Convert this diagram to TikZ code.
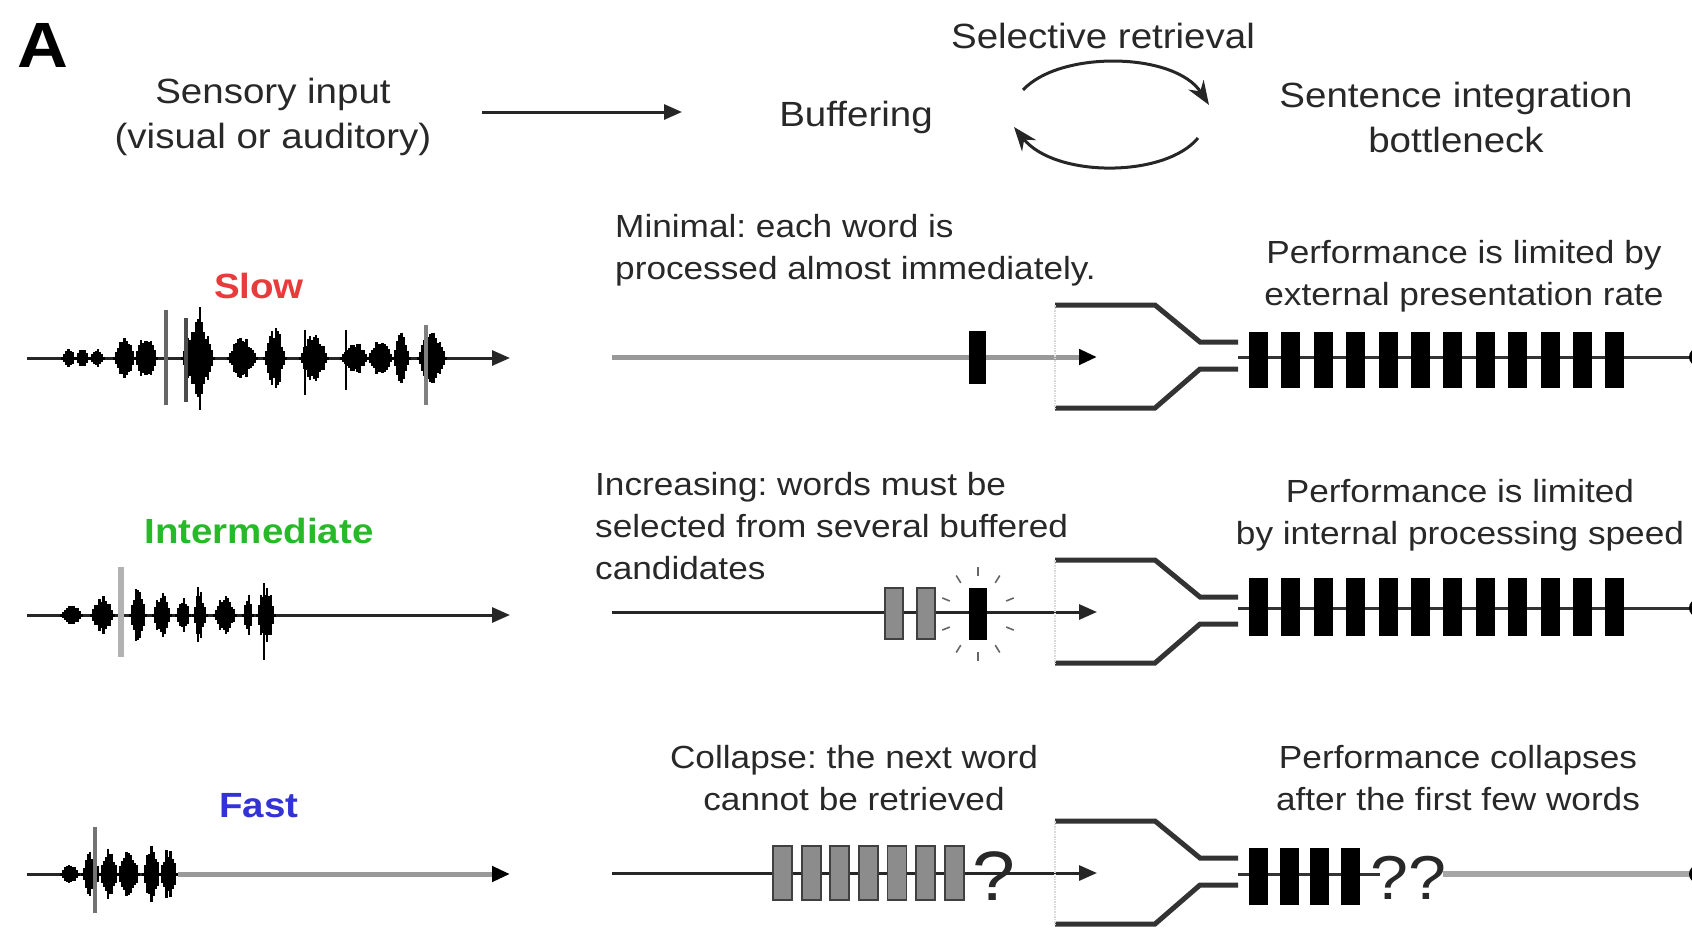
\documentclass[tikz,border=0pt]{standalone}
\usepackage{fontspec}
\setmainfont{Liberation Sans}[FakeStretch=1.1]
\usetikzlibrary{arrows.meta}
\definecolor{txtc}{RGB}{40,40,40}
\definecolor{slowc}{RGB}{232,60,60}
\definecolor{midc}{RGB}{40,185,40}
\definecolor{fastc}{RGB}{50,50,215}
\newcommand\wblob[4]{%
  \pgfmathtruncatemacro\wbn{max(2,(#2-#1)/2.0)}%
  \foreach \k in {0,...,\wbn}{%
    \pgfmathsetmacro\wbx{#1+(#2-#1)*\k/\wbn}%
    \pgfmathsetmacro\wba{1.5+#3*sin(180*\k/\wbn)*(0.6+0.4*rnd)}%
    \draw[wavel] (\wbx,#4-\wba) -- (\wbx,#4+\wba);}}
\newcommand\wspike[4]{\draw[wavel,#4] (#1,#2) -- (#1,#3);}
\newcommand\funnel[1]{%
  \draw[funl] (1055,#1-52) -- (1155,#1-52) -- (1200,#1-15) -- (1238,#1-15);
  \draw[funl] (1055,#1+51) -- (1155,#1+51) -- (1200,#1+12) -- (1238,#1+12);
  \draw[black!15, densely dotted, line width=1.5pt] (1055,#1-52) -- (1055,#1+51);}
\begin{document}
\frenchspacing
\begin{tikzpicture}[x=1pt,y=-1pt,
  txt/.style={inner sep=0pt, text=txtc, align=center, font=\fontsize{32}{42}\selectfont},
  toptxt/.style={inner sep=0pt, text=txtc, align=center, font=\fontsize{35}{45}\selectfont},
  speed/.style={inner sep=0pt, font=\fontsize{35}{42}\selectfont\bfseries},
  wavel/.style={line width=2.4pt, black},
  axisl/.style={line width=3pt, black!85, -{Triangle[length=18pt,width=15pt]}},
  bufl/.style={line width=3pt, black!85, -{Triangle[length=18pt,width=15pt]}},
  funl/.style={line width=5pt, black!80},
  outl/.style={line width=3pt, black!80},
  cyc/.style={line width=3pt, black!85, -{Stealth[length=24pt,width=18pt]}},
  word/.style={fill=black, draw=none},
  cand/.style={fill=black!45, draw=black!75, line width=1.8pt},
  ray/.style={black!60, line width=1.6pt}]
\useasboundingbox (0,0) rectangle (1692,929);
\pgfmathsetseed{7}

% heading
\node[inner sep=0pt, font=\fontsize{64}{70}\selectfont\bfseries] (lblA) at (43,45) {A};
\node[toptxt] (sens) at (273,117) {Sensory input\\(visual or auditory)};
\node[toptxt] (buf) at (856,117) {Buffering};
\node[toptxt] (sel) at (1103,36) {Selective retrieval};
\node[toptxt] (sent) at (1456,117) {Sentence integration\\bottleneck};
\coordinate (inA) at (482,112);
\coordinate (inB) at (682,112);
\draw[axisl] (inA) -- (inB);
\coordinate (cyA) at (1023,90);
\coordinate (cyB) at (1209,105);
\coordinate (cyC) at (1198,138);
\coordinate (cyD) at (1014,127);
\draw[cyc] (cyA) .. controls (1060,50) and (1175,52) .. (cyB);
\draw[cyc] (cyC) .. controls (1165,178) and (1055,178) .. (cyD);

% speed labels
\node[speed, text=slowc] (slow) at (259,286) {Slow};
\node[speed, text=midc] (inter) at (259,531) {Intermediate};
\node[speed, text=fastc] (fast) at (259,806) {Fast};

% waveform axes
\coordinate (w1a) at (27,358); \coordinate (w1b) at (510,358);
\coordinate (w2a) at (27,615); \coordinate (w2b) at (510,615);
\coordinate (w3a) at (27,874); \coordinate (w3b) at (510,874);
\draw[axisl] (w1a) -- (w1b);
\draw[axisl] (w2a) -- (w2b);
\draw[line width=3pt, black!85] (w3a) -- (178,874);
\draw[line width=5pt, black!40, -{Triangle[length=18pt,width=15pt,fill=black,black]}] (178,874) -- (w3b);

% slow waveform
\wblob{62}{75}{9}{358}\wblob{76}{89}{9}{358}\wblob{90}{104}{9}{358}
\wblob{114}{135}{20}{358}\wblob{135}{157}{22}{358}
\wspike{166}{310}{405}{black!60, line width=4pt}
\wblob{182}{214}{38}{358}\wspike{186}{318}{402}{black!70, line width=4pt}\wspike{200}{307}{410}{}
\wblob{228}{257}{20}{358}
\wblob{264}{286}{30}{358}
\wblob{300}{328}{25}{358}\wspike{305}{330}{395}{}
\wblob{341}{368}{16}{358}\wblob{368}{393}{18}{358}\wspike{346}{330}{390}{}
\wblob{393}{410}{25}{358}
\wblob{418}{446}{28}{358}\wspike{426}{325}{405}{black!50, line width=4pt}

% intermediate waveform
\wblob{61}{82}{10}{615}
\wblob{91}{114}{18}{615}
\wspike{121}{567}{657}{black!30, line width=6pt}
\wblob{130}{146}{30}{615}
\wblob{153}{171}{22}{615}
\wblob{176}{190}{18}{615}
\wblob{193}{207}{22}{615}\wspike{198}{587}{642}{}
\wblob{214}{236}{18}{615}
\wblob{243}{253}{22}{615}
\wblob{257}{275}{30}{615}\wspike{264}{583}{660}{}

% fast waveform
\wblob{61}{79}{10}{874}
\wblob{82}{100}{22}{874}\wspike{95}{827}{913}{black!55, line width=4pt}
\wblob{100}{118}{25}{874}
\wblob{118}{139}{25}{874}
\wblob{143}{160}{28}{874}
\wblob{160}{177}{25}{874}

% buffer texts
\node[txt, align=left, anchor=west] (t1) at (615,250) {Minimal: each word is\\processed almost immediately.};
\node[txt, align=left, anchor=west] (t2) at (595,526) {Increasing: words must be\\selected from several buffered\\candidates};
\node[txt] (t3) at (854,778) {Collapse: the next word\\cannot be retrieved};

% performance texts
\node[txt] (p1) at (1464,276) {Performance is limited by\\external presentation rate};
\node[txt] (p2) at (1460,515) {Performance is limited\\by internal processing speed};
\node[txt] (p3) at (1458,778) {Performance collapses\\after the first few words};

% buffer lines
\coordinate (b1a) at (612,357); \coordinate (b1b) at (1097,357);
\coordinate (b2a) at (612,612); \coordinate (b2b) at (1097,612);
\coordinate (b3a) at (612,873); \coordinate (b3b) at (1097,873);
\draw[line width=5pt, black!40, -{Triangle[length=18pt,width=15pt,fill=black,black]}] (b1a) -- (b1b);
\draw[bufl] (b2a) -- (b2b);
\draw[bufl] (b3a) -- (b3b);

% row 1 buffer word
\fill[word] (969,331) rectangle (986,384);
% row 2 candidates
\draw[cand] (885,588) rectangle (903,639);
\draw[cand] (917,588) rectangle (935,639);
\fill[word] (969,588) rectangle (987,640);
\foreach \a in {20,55,90,125,160,200,235,270,305,340}{
  \draw[ray] ({978+30*cos(\a)},{614-38*sin(\a)}) -- ({978+38*cos(\a)},{614-47*sin(\a)});}
% row 3 candidates
\foreach \i in {0,...,6}{
  \draw[cand] ({773+28.6*\i},846) rectangle ({792+28.6*\i},900);}
\node[inner sep=0pt, text=txtc, font=\fontsize{70}{70}\selectfont] (q1) at (994,876) {?};

% funnels
\funnel{357}
\funnel{612}
\funnel{873}

% outputs
\coordinate (o1a) at (1238,357); \coordinate (o1b) at (1698,357);
\coordinate (o2a) at (1238,608); \coordinate (o2b) at (1698,608);
\coordinate (o3a) at (1238,874); \coordinate (o3m) at (1443,874); \coordinate (o3b) at (1698,874);
\draw[outl] (o1a) -- (o1b);
\draw[outl] (o2a) -- (o2b);
\draw[outl] (o3a) -- (1380,874);
\draw[line width=6pt, black!35] (o3m) -- (o3b);
\foreach \yy in {357,608,874}{\fill[black] (1698,\yy) circle (9);}
\foreach \i in {0,...,11}{
  \fill[word] ({1249+32.4*\i},332) rectangle ({1268+32.4*\i},388);
  \fill[word] ({1249+32.4*\i},578) rectangle ({1268+32.4*\i},636);}
\foreach \i in {0,...,3}{
  \fill[word] ({1249+30.5*\i},848) rectangle ({1268+30.5*\i},905);}
\node[inner sep=0pt, text=txtc, font=\fontsize{62}{62}\selectfont] (q2) at (1408,878) {??};
\end{tikzpicture}
\end{document}
